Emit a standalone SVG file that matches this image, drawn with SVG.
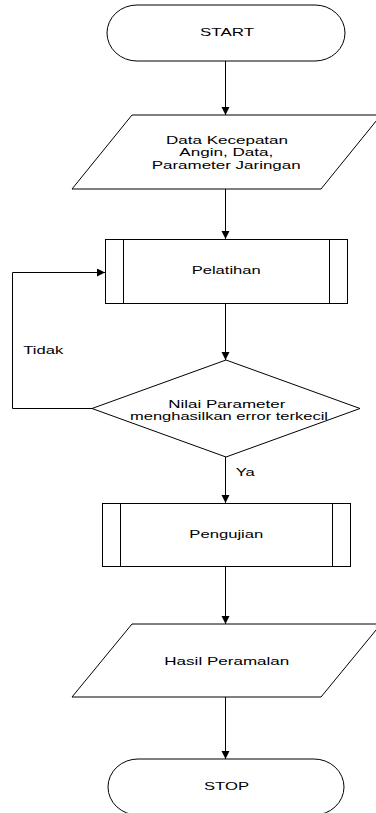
<svg xmlns="http://www.w3.org/2000/svg" width="376" height="813" viewBox="0 0 376 813">
<defs>
<style>
.s{fill:#fff;stroke:#000;stroke-width:1}
.c{fill:none;stroke:#000;stroke-width:1}
text{font-family:"Liberation Sans",Arial,sans-serif;font-size:11px;fill:#000}
.m{text-anchor:middle}
</style>
<marker id="ah" markerUnits="userSpaceOnUse" markerWidth="10" markerHeight="10" refX="8" refY="4" orient="auto">
<path d="M0,0 L8,4 L0,8 z" fill="#000"/>
</marker>
</defs>
<g id="connectors">
<line class="c" x1="225.5" y1="61" x2="225.5" y2="115" marker-end="url(#ah)"/>
<line class="c" x1="225.5" y1="189" x2="225.5" y2="239" marker-end="url(#ah)"/>
<line class="c" x1="225.5" y1="303" x2="225.5" y2="360" marker-end="url(#ah)"/>
<line class="c" x1="225.5" y1="457" x2="225.5" y2="503" marker-end="url(#ah)"/>
<line class="c" x1="225.5" y1="566" x2="225.5" y2="624" marker-end="url(#ah)"/>
<line class="c" x1="225.5" y1="697" x2="225.5" y2="759" marker-end="url(#ah)"/>
<polyline class="c" points="92,408.5 12.5,408.5 12.5,272.5 105,272.5" marker-end="url(#ah)"/>
<text x="23.3" y="353.5" textLength="40" lengthAdjust="spacingAndGlyphs">Tidak</text>
<text x="235.7" y="476" textLength="19" lengthAdjust="spacingAndGlyphs">Ya</text>
</g>
<g id="start">
<rect class="s" x="107" y="5" width="238" height="56" rx="30" ry="28"/>
<text x="200" y="36" textLength="54" lengthAdjust="spacingAndGlyphs">START</text>
</g>
<g id="input-data">
<polygon class="s" points="132,115 381,115 321,189 72,189"/>
<text x="166" y="143.5" textLength="122" lengthAdjust="spacingAndGlyphs">Data Kecepatan</text>
<text x="179.3" y="156" textLength="94" lengthAdjust="spacingAndGlyphs">Angin, Data,</text>
<text x="151.7" y="168.5" textLength="149" lengthAdjust="spacingAndGlyphs">Parameter Jaringan</text>
</g>
<g id="pelatihan">
<rect class="s" x="105.5" y="239.5" width="242" height="64"/>
<line class="c" x1="123.5" y1="239.5" x2="123.5" y2="303.5"/>
<line class="c" x1="329.5" y1="239.5" x2="329.5" y2="303.5"/>
<text x="191.7" y="274" textLength="69" lengthAdjust="spacingAndGlyphs">Pelatihan</text>
</g>
<g id="decision">
<polygon class="s" points="226,360 360,408.5 226,457 92,408.5"/>
<text x="168.3" y="408" textLength="117" lengthAdjust="spacingAndGlyphs">Nilai Parameter</text>
<text x="130" y="420" textLength="198" lengthAdjust="spacingAndGlyphs">menghasilkan error terkecil</text>
</g>
<g id="pengujian">
<rect class="s" x="102.5" y="503.5" width="248" height="63"/>
<line class="c" x1="120.5" y1="503.5" x2="120.5" y2="566.5"/>
<line class="c" x1="332.5" y1="503.5" x2="332.5" y2="566.5"/>
<text x="189.3" y="538" textLength="74" lengthAdjust="spacingAndGlyphs">Pengujian</text>
</g>
<g id="output">
<polygon class="s" points="132,624 381,624 321,697 72,697"/>
<text x="164.3" y="665" textLength="125" lengthAdjust="spacingAndGlyphs">Hasil Peramalan</text>
</g>
<g id="stop">
<rect class="s" x="108" y="759" width="236" height="56" rx="30" ry="28"/>
<text x="204" y="790" textLength="45" lengthAdjust="spacingAndGlyphs">STOP</text>
</g>
</svg>
